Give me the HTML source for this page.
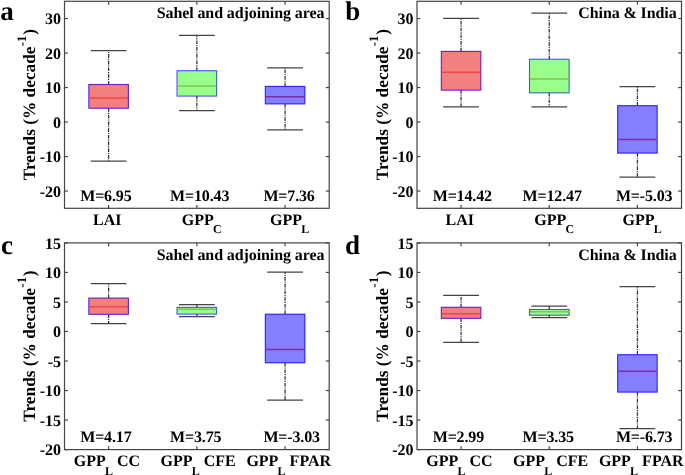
<!DOCTYPE html>
<html><head><meta charset="utf-8"><style>
html,body{margin:0;padding:0;background:#fff;}
svg{display:block;will-change:transform;}
text{font-family:"Liberation Serif", serif;font-weight:bold;fill:#000;text-rendering:geometricPrecision;}
.t{font-size:16px;}
.yl{font-size:17.3px;}
.pl{font-size:27px;}
</style></head><body>
<svg width="685" height="475" viewBox="0 0 685 475">
<rect width="685" height="475" fill="#fff"/>
<line x1="108.62" y1="84.50" x2="108.62" y2="50.50" stroke="#303030" stroke-width="1.25" stroke-dasharray="3.6 1.0 1.1 1.0"/>
<line x1="108.62" y1="108.20" x2="108.62" y2="161.20" stroke="#303030" stroke-width="1.25" stroke-dasharray="3.6 1.0 1.1 1.0"/>
<line x1="90.72" y1="50.50" x2="126.52" y2="50.50" stroke="#444444" stroke-width="1.25"/>
<line x1="90.72" y1="161.20" x2="126.52" y2="161.20" stroke="#444444" stroke-width="1.25"/>
<rect x="88.87" y="84.50" width="39.50" height="23.70" fill="none" stroke="#3a2aff" stroke-width="1.1"/>
<rect x="88.87" y="84.50" width="39.50" height="23.70" fill="#e90000" fill-opacity="0.5" stroke="none"/>
<line x1="89.37" y1="98.07" x2="127.87" y2="98.07" stroke="#f5444a" stroke-width="1.5"/>
<line x1="196.85" y1="70.80" x2="196.85" y2="35.40" stroke="#303030" stroke-width="1.25" stroke-dasharray="3.6 1.0 1.1 1.0"/>
<line x1="196.85" y1="96.00" x2="196.85" y2="110.50" stroke="#303030" stroke-width="1.25" stroke-dasharray="3.6 1.0 1.1 1.0"/>
<line x1="178.95" y1="35.40" x2="214.75" y2="35.40" stroke="#444444" stroke-width="1.25"/>
<line x1="178.95" y1="110.50" x2="214.75" y2="110.50" stroke="#444444" stroke-width="1.25"/>
<rect x="177.10" y="70.80" width="39.50" height="25.20" fill="none" stroke="#3a2aff" stroke-width="1.1"/>
<rect x="177.10" y="70.80" width="39.50" height="25.20" fill="#31ff15" fill-opacity="0.5" stroke="none"/>
<line x1="177.60" y1="86.07" x2="216.10" y2="86.07" stroke="#8ac053" stroke-width="1.5"/>
<line x1="285.08" y1="86.40" x2="285.08" y2="67.90" stroke="#303030" stroke-width="1.25" stroke-dasharray="3.6 1.0 1.1 1.0"/>
<line x1="285.08" y1="103.90" x2="285.08" y2="129.80" stroke="#303030" stroke-width="1.25" stroke-dasharray="3.6 1.0 1.1 1.0"/>
<line x1="267.18" y1="67.90" x2="302.98" y2="67.90" stroke="#444444" stroke-width="1.25"/>
<line x1="267.18" y1="129.80" x2="302.98" y2="129.80" stroke="#444444" stroke-width="1.25"/>
<rect x="265.33" y="86.40" width="39.50" height="17.50" fill="none" stroke="#3a2aff" stroke-width="1.1"/>
<rect x="265.33" y="86.40" width="39.50" height="17.50" fill="#0900ff" fill-opacity="0.5" stroke="none"/>
<line x1="265.83" y1="96.66" x2="304.33" y2="96.66" stroke="#7d2da5" stroke-width="1.5"/>
<rect x="64.5" y="1.3" width="264.70" height="207.00" fill="none" stroke="#444444" stroke-width="1.2"/>
<line x1="64.5" y1="191.05" x2="67.9" y2="191.05" stroke="#444444" stroke-width="1.2"/>
<line x1="329.2" y1="191.05" x2="325.8" y2="191.05" stroke="#444444" stroke-width="1.2"/>
<text x="61.00" y="196.65" text-anchor="end" class="t">-20</text>
<line x1="64.5" y1="156.55" x2="67.9" y2="156.55" stroke="#444444" stroke-width="1.2"/>
<line x1="329.2" y1="156.55" x2="325.8" y2="156.55" stroke="#444444" stroke-width="1.2"/>
<text x="61.00" y="162.15" text-anchor="end" class="t">-10</text>
<line x1="64.5" y1="122.05" x2="67.9" y2="122.05" stroke="#444444" stroke-width="1.2"/>
<line x1="329.2" y1="122.05" x2="325.8" y2="122.05" stroke="#444444" stroke-width="1.2"/>
<text x="61.00" y="127.65" text-anchor="end" class="t">0</text>
<line x1="64.5" y1="87.55" x2="67.9" y2="87.55" stroke="#444444" stroke-width="1.2"/>
<line x1="329.2" y1="87.55" x2="325.8" y2="87.55" stroke="#444444" stroke-width="1.2"/>
<text x="61.00" y="93.15" text-anchor="end" class="t">10</text>
<line x1="64.5" y1="53.05" x2="67.9" y2="53.05" stroke="#444444" stroke-width="1.2"/>
<line x1="329.2" y1="53.05" x2="325.8" y2="53.05" stroke="#444444" stroke-width="1.2"/>
<text x="61.00" y="58.65" text-anchor="end" class="t">20</text>
<line x1="64.5" y1="18.55" x2="67.9" y2="18.55" stroke="#444444" stroke-width="1.2"/>
<line x1="329.2" y1="18.55" x2="325.8" y2="18.55" stroke="#444444" stroke-width="1.2"/>
<text x="61.00" y="24.15" text-anchor="end" class="t">30</text>
<line x1="108.62" y1="208.3" x2="108.62" y2="204.9" stroke="#444444" stroke-width="1.2"/>
<line x1="108.62" y1="1.3" x2="108.62" y2="4.7" stroke="#444444" stroke-width="1.2"/>
<line x1="196.85" y1="208.3" x2="196.85" y2="204.9" stroke="#444444" stroke-width="1.2"/>
<line x1="196.85" y1="1.3" x2="196.85" y2="4.7" stroke="#444444" stroke-width="1.2"/>
<line x1="285.08" y1="208.3" x2="285.08" y2="204.9" stroke="#444444" stroke-width="1.2"/>
<line x1="285.08" y1="1.3" x2="285.08" y2="4.7" stroke="#444444" stroke-width="1.2"/>
<text x="80.20" y="201.10" class="t" letter-spacing="-0.15">M=6.95</text>
<text x="170.10" y="201.10" class="t" letter-spacing="-0.15">M=10.43</text>
<text x="263.40" y="201.10" class="t" letter-spacing="-0.15">M=7.36</text>
<text x="324.30" y="17.90" text-anchor="end" class="t" letter-spacing="-0.1">Sahel and adjoining area</text>
<text transform="translate(35.00,104.70) rotate(-90)" text-anchor="middle" class="yl">Trends (% decade<tspan dy="-9.3" dx="0.3" font-size="13">-1</tspan><tspan dy="9.3" dx="0.5">)</tspan></text>
<text x="93.00" y="224.60" class="t">LAI</text>
<text x="181.80" y="224.60" class="t">GPP<tspan dx="-0.8" dy="8.4" font-size="12">C</tspan></text>
<text x="270.10" y="224.60" class="t">GPP<tspan dx="-0.8" dy="8.4" font-size="12">L</tspan></text>
<line x1="461.08" y1="51.40" x2="461.08" y2="18.30" stroke="#303030" stroke-width="1.25" stroke-dasharray="3.6 1.0 1.1 1.0"/>
<line x1="461.08" y1="90.10" x2="461.08" y2="106.80" stroke="#303030" stroke-width="1.25" stroke-dasharray="3.6 1.0 1.1 1.0"/>
<line x1="443.18" y1="18.30" x2="478.98" y2="18.30" stroke="#444444" stroke-width="1.25"/>
<line x1="443.18" y1="106.80" x2="478.98" y2="106.80" stroke="#444444" stroke-width="1.25"/>
<rect x="441.33" y="51.40" width="39.50" height="38.70" fill="none" stroke="#3a2aff" stroke-width="1.1"/>
<rect x="441.33" y="51.40" width="39.50" height="38.70" fill="#e90000" fill-opacity="0.5" stroke="none"/>
<line x1="441.83" y1="72.30" x2="480.33" y2="72.30" stroke="#f5444a" stroke-width="1.5"/>
<line x1="549.25" y1="59.30" x2="549.25" y2="13.00" stroke="#303030" stroke-width="1.25" stroke-dasharray="3.6 1.0 1.1 1.0"/>
<line x1="549.25" y1="92.80" x2="549.25" y2="106.80" stroke="#303030" stroke-width="1.25" stroke-dasharray="3.6 1.0 1.1 1.0"/>
<line x1="531.35" y1="13.00" x2="567.15" y2="13.00" stroke="#444444" stroke-width="1.25"/>
<line x1="531.35" y1="106.80" x2="567.15" y2="106.80" stroke="#444444" stroke-width="1.25"/>
<rect x="529.50" y="59.30" width="39.50" height="33.50" fill="none" stroke="#3a2aff" stroke-width="1.1"/>
<rect x="529.50" y="59.30" width="39.50" height="33.50" fill="#31ff15" fill-opacity="0.5" stroke="none"/>
<line x1="530.00" y1="79.03" x2="568.50" y2="79.03" stroke="#8ac053" stroke-width="1.5"/>
<line x1="637.42" y1="105.70" x2="637.42" y2="86.50" stroke="#303030" stroke-width="1.25" stroke-dasharray="3.6 1.0 1.1 1.0"/>
<line x1="637.42" y1="153.10" x2="637.42" y2="177.00" stroke="#303030" stroke-width="1.25" stroke-dasharray="3.6 1.0 1.1 1.0"/>
<line x1="619.52" y1="86.50" x2="655.32" y2="86.50" stroke="#444444" stroke-width="1.25"/>
<line x1="619.52" y1="177.00" x2="655.32" y2="177.00" stroke="#444444" stroke-width="1.25"/>
<rect x="617.67" y="105.70" width="39.50" height="47.40" fill="none" stroke="#3a2aff" stroke-width="1.1"/>
<rect x="617.67" y="105.70" width="39.50" height="47.40" fill="#0900ff" fill-opacity="0.5" stroke="none"/>
<line x1="618.17" y1="139.40" x2="656.67" y2="139.40" stroke="#7d2da5" stroke-width="1.5"/>
<rect x="417.0" y="1.3" width="264.50" height="207.00" fill="none" stroke="#444444" stroke-width="1.2"/>
<line x1="417.0" y1="191.05" x2="420.4" y2="191.05" stroke="#444444" stroke-width="1.2"/>
<line x1="681.5" y1="191.05" x2="678.1" y2="191.05" stroke="#444444" stroke-width="1.2"/>
<text x="413.50" y="196.65" text-anchor="end" class="t">-20</text>
<line x1="417.0" y1="156.55" x2="420.4" y2="156.55" stroke="#444444" stroke-width="1.2"/>
<line x1="681.5" y1="156.55" x2="678.1" y2="156.55" stroke="#444444" stroke-width="1.2"/>
<text x="413.50" y="162.15" text-anchor="end" class="t">-10</text>
<line x1="417.0" y1="122.05" x2="420.4" y2="122.05" stroke="#444444" stroke-width="1.2"/>
<line x1="681.5" y1="122.05" x2="678.1" y2="122.05" stroke="#444444" stroke-width="1.2"/>
<text x="413.50" y="127.65" text-anchor="end" class="t">0</text>
<line x1="417.0" y1="87.55" x2="420.4" y2="87.55" stroke="#444444" stroke-width="1.2"/>
<line x1="681.5" y1="87.55" x2="678.1" y2="87.55" stroke="#444444" stroke-width="1.2"/>
<text x="413.50" y="93.15" text-anchor="end" class="t">10</text>
<line x1="417.0" y1="53.05" x2="420.4" y2="53.05" stroke="#444444" stroke-width="1.2"/>
<line x1="681.5" y1="53.05" x2="678.1" y2="53.05" stroke="#444444" stroke-width="1.2"/>
<text x="413.50" y="58.65" text-anchor="end" class="t">20</text>
<line x1="417.0" y1="18.55" x2="420.4" y2="18.55" stroke="#444444" stroke-width="1.2"/>
<line x1="681.5" y1="18.55" x2="678.1" y2="18.55" stroke="#444444" stroke-width="1.2"/>
<text x="413.50" y="24.15" text-anchor="end" class="t">30</text>
<line x1="461.08" y1="208.3" x2="461.08" y2="204.9" stroke="#444444" stroke-width="1.2"/>
<line x1="461.08" y1="1.3" x2="461.08" y2="4.7" stroke="#444444" stroke-width="1.2"/>
<line x1="549.25" y1="208.3" x2="549.25" y2="204.9" stroke="#444444" stroke-width="1.2"/>
<line x1="549.25" y1="1.3" x2="549.25" y2="4.7" stroke="#444444" stroke-width="1.2"/>
<line x1="637.42" y1="208.3" x2="637.42" y2="204.9" stroke="#444444" stroke-width="1.2"/>
<line x1="637.42" y1="1.3" x2="637.42" y2="4.7" stroke="#444444" stroke-width="1.2"/>
<text x="432.70" y="201.10" class="t" letter-spacing="-0.15">M=14.42</text>
<text x="522.60" y="201.10" class="t" letter-spacing="-0.15">M=12.47</text>
<text x="615.90" y="201.10" class="t" letter-spacing="-0.15">M=-5.03</text>
<text x="676.60" y="17.90" text-anchor="end" class="t" letter-spacing="-0.1">China &amp; India</text>
<text transform="translate(387.50,104.70) rotate(-90)" text-anchor="middle" class="yl">Trends (% decade<tspan dy="-9.3" dx="0.3" font-size="13">-1</tspan><tspan dy="9.3" dx="0.5">)</tspan></text>
<text x="445.50" y="224.60" class="t">LAI</text>
<text x="534.30" y="224.60" class="t">GPP<tspan dx="-0.8" dy="8.4" font-size="12">C</tspan></text>
<text x="622.60" y="224.60" class="t">GPP<tspan dx="-0.8" dy="8.4" font-size="12">L</tspan></text>
<line x1="108.62" y1="298.10" x2="108.62" y2="283.50" stroke="#303030" stroke-width="1.25" stroke-dasharray="3.6 1.0 1.1 1.0"/>
<line x1="108.62" y1="314.30" x2="108.62" y2="323.50" stroke="#303030" stroke-width="1.25" stroke-dasharray="3.6 1.0 1.1 1.0"/>
<line x1="90.72" y1="283.50" x2="126.52" y2="283.50" stroke="#444444" stroke-width="1.25"/>
<line x1="90.72" y1="323.50" x2="126.52" y2="323.50" stroke="#444444" stroke-width="1.25"/>
<rect x="88.87" y="298.10" width="39.50" height="16.20" fill="none" stroke="#3a2aff" stroke-width="1.1"/>
<rect x="88.87" y="298.10" width="39.50" height="16.20" fill="#e90000" fill-opacity="0.5" stroke="none"/>
<line x1="89.37" y1="306.86" x2="127.87" y2="306.86" stroke="#f5444a" stroke-width="1.5"/>
<line x1="196.85" y1="307.40" x2="196.85" y2="304.50" stroke="#303030" stroke-width="1.25" stroke-dasharray="3.6 1.0 1.1 1.0"/>
<line x1="196.85" y1="314.00" x2="196.85" y2="316.70" stroke="#303030" stroke-width="1.25" stroke-dasharray="3.6 1.0 1.1 1.0"/>
<line x1="178.95" y1="304.50" x2="214.75" y2="304.50" stroke="#444444" stroke-width="1.25"/>
<line x1="178.95" y1="316.70" x2="214.75" y2="316.70" stroke="#444444" stroke-width="1.25"/>
<rect x="177.10" y="307.40" width="39.50" height="6.60" fill="none" stroke="#3a2aff" stroke-width="1.1"/>
<rect x="177.10" y="307.40" width="39.50" height="6.60" fill="#31ff15" fill-opacity="0.5" stroke="none"/>
<line x1="177.60" y1="309.34" x2="216.10" y2="309.34" stroke="#8ac053" stroke-width="1.5"/>
<line x1="285.08" y1="314.20" x2="285.08" y2="272.00" stroke="#303030" stroke-width="1.25" stroke-dasharray="3.6 1.0 1.1 1.0"/>
<line x1="285.08" y1="362.80" x2="285.08" y2="400.20" stroke="#303030" stroke-width="1.25" stroke-dasharray="3.6 1.0 1.1 1.0"/>
<line x1="267.18" y1="272.00" x2="302.98" y2="272.00" stroke="#444444" stroke-width="1.25"/>
<line x1="267.18" y1="400.20" x2="302.98" y2="400.20" stroke="#444444" stroke-width="1.25"/>
<rect x="265.33" y="314.20" width="39.50" height="48.60" fill="none" stroke="#3a2aff" stroke-width="1.1"/>
<rect x="265.33" y="314.20" width="39.50" height="48.60" fill="#0900ff" fill-opacity="0.5" stroke="none"/>
<line x1="265.83" y1="349.38" x2="304.33" y2="349.38" stroke="#7d2da5" stroke-width="1.5"/>
<rect x="64.5" y="242.9" width="264.70" height="206.70" fill="none" stroke="#444444" stroke-width="1.2"/>
<line x1="64.5" y1="449.60" x2="67.9" y2="449.60" stroke="#444444" stroke-width="1.2"/>
<line x1="329.2" y1="449.60" x2="325.8" y2="449.60" stroke="#444444" stroke-width="1.2"/>
<text x="61.00" y="455.20" text-anchor="end" class="t">-20</text>
<line x1="64.5" y1="420.07" x2="67.9" y2="420.07" stroke="#444444" stroke-width="1.2"/>
<line x1="329.2" y1="420.07" x2="325.8" y2="420.07" stroke="#444444" stroke-width="1.2"/>
<text x="61.00" y="425.67" text-anchor="end" class="t">-15</text>
<line x1="64.5" y1="390.54" x2="67.9" y2="390.54" stroke="#444444" stroke-width="1.2"/>
<line x1="329.2" y1="390.54" x2="325.8" y2="390.54" stroke="#444444" stroke-width="1.2"/>
<text x="61.00" y="396.14" text-anchor="end" class="t">-10</text>
<line x1="64.5" y1="361.01" x2="67.9" y2="361.01" stroke="#444444" stroke-width="1.2"/>
<line x1="329.2" y1="361.01" x2="325.8" y2="361.01" stroke="#444444" stroke-width="1.2"/>
<text x="61.00" y="366.61" text-anchor="end" class="t">-5</text>
<line x1="64.5" y1="331.49" x2="67.9" y2="331.49" stroke="#444444" stroke-width="1.2"/>
<line x1="329.2" y1="331.49" x2="325.8" y2="331.49" stroke="#444444" stroke-width="1.2"/>
<text x="61.00" y="337.09" text-anchor="end" class="t">0</text>
<line x1="64.5" y1="301.96" x2="67.9" y2="301.96" stroke="#444444" stroke-width="1.2"/>
<line x1="329.2" y1="301.96" x2="325.8" y2="301.96" stroke="#444444" stroke-width="1.2"/>
<text x="61.00" y="307.56" text-anchor="end" class="t">5</text>
<line x1="64.5" y1="272.43" x2="67.9" y2="272.43" stroke="#444444" stroke-width="1.2"/>
<line x1="329.2" y1="272.43" x2="325.8" y2="272.43" stroke="#444444" stroke-width="1.2"/>
<text x="61.00" y="278.03" text-anchor="end" class="t">10</text>
<line x1="64.5" y1="242.90" x2="67.9" y2="242.90" stroke="#444444" stroke-width="1.2"/>
<line x1="329.2" y1="242.90" x2="325.8" y2="242.90" stroke="#444444" stroke-width="1.2"/>
<text x="61.00" y="248.50" text-anchor="end" class="t">15</text>
<line x1="108.62" y1="449.6" x2="108.62" y2="446.20000000000005" stroke="#444444" stroke-width="1.2"/>
<line x1="108.62" y1="242.9" x2="108.62" y2="246.3" stroke="#444444" stroke-width="1.2"/>
<line x1="196.85" y1="449.6" x2="196.85" y2="446.20000000000005" stroke="#444444" stroke-width="1.2"/>
<line x1="196.85" y1="242.9" x2="196.85" y2="246.3" stroke="#444444" stroke-width="1.2"/>
<line x1="285.08" y1="449.6" x2="285.08" y2="446.20000000000005" stroke="#444444" stroke-width="1.2"/>
<line x1="285.08" y1="242.9" x2="285.08" y2="246.3" stroke="#444444" stroke-width="1.2"/>
<text x="80.20" y="442.40" class="t" letter-spacing="-0.15">M=4.17</text>
<text x="170.10" y="442.40" class="t" letter-spacing="-0.15">M=3.75</text>
<text x="263.40" y="442.40" class="t" letter-spacing="-0.15">M=-3.03</text>
<text x="324.30" y="260.00" text-anchor="end" class="t" letter-spacing="-0.1">Sahel and adjoining area</text>
<text transform="translate(35.00,346.15) rotate(-90)" text-anchor="middle" class="yl">Trends (% decade<tspan dy="-9.3" dx="0.3" font-size="13">-1</tspan><tspan dy="9.3" dx="0.5">)</tspan></text>
<text x="73.80" y="466.30" class="t">GPP<tspan dx="-0.8" dy="8.4" font-size="12">L</tspan><tspan dy="-8.4"> CC</tspan></text>
<text x="160.50" y="466.30" class="t">GPP<tspan dx="-0.8" dy="8.4" font-size="12">L</tspan><tspan dy="-8.4"> CFE</tspan></text>
<text x="246.40" y="466.30" class="t">GPP<tspan dx="-0.8" dy="8.4" font-size="12">L</tspan><tspan dy="-8.4"> FPAR</tspan></text>
<line x1="461.08" y1="307.30" x2="461.08" y2="295.30" stroke="#303030" stroke-width="1.25" stroke-dasharray="3.6 1.0 1.1 1.0"/>
<line x1="461.08" y1="318.30" x2="461.08" y2="342.30" stroke="#303030" stroke-width="1.25" stroke-dasharray="3.6 1.0 1.1 1.0"/>
<line x1="443.18" y1="295.30" x2="478.98" y2="295.30" stroke="#444444" stroke-width="1.25"/>
<line x1="443.18" y1="342.30" x2="478.98" y2="342.30" stroke="#444444" stroke-width="1.25"/>
<rect x="441.33" y="307.30" width="39.50" height="11.00" fill="none" stroke="#3a2aff" stroke-width="1.1"/>
<rect x="441.33" y="307.30" width="39.50" height="11.00" fill="#e90000" fill-opacity="0.5" stroke="none"/>
<line x1="441.83" y1="313.83" x2="480.33" y2="313.83" stroke="#f5444a" stroke-width="1.5"/>
<line x1="549.25" y1="309.50" x2="549.25" y2="306.10" stroke="#303030" stroke-width="1.25" stroke-dasharray="3.6 1.0 1.1 1.0"/>
<line x1="549.25" y1="315.10" x2="549.25" y2="317.70" stroke="#303030" stroke-width="1.25" stroke-dasharray="3.6 1.0 1.1 1.0"/>
<line x1="531.35" y1="306.10" x2="567.15" y2="306.10" stroke="#444444" stroke-width="1.25"/>
<line x1="531.35" y1="317.70" x2="567.15" y2="317.70" stroke="#444444" stroke-width="1.25"/>
<rect x="529.50" y="309.50" width="39.50" height="5.60" fill="none" stroke="#3a2aff" stroke-width="1.1"/>
<rect x="529.50" y="309.50" width="39.50" height="5.60" fill="#31ff15" fill-opacity="0.5" stroke="none"/>
<line x1="530.00" y1="311.70" x2="568.50" y2="311.70" stroke="#8ac053" stroke-width="1.5"/>
<line x1="637.42" y1="354.70" x2="637.42" y2="286.50" stroke="#303030" stroke-width="1.25" stroke-dasharray="3.6 1.0 1.1 1.0"/>
<line x1="637.42" y1="392.10" x2="637.42" y2="428.50" stroke="#303030" stroke-width="1.25" stroke-dasharray="3.6 1.0 1.1 1.0"/>
<line x1="619.52" y1="286.50" x2="655.32" y2="286.50" stroke="#444444" stroke-width="1.25"/>
<line x1="619.52" y1="428.50" x2="655.32" y2="428.50" stroke="#444444" stroke-width="1.25"/>
<rect x="617.67" y="354.70" width="39.50" height="37.40" fill="none" stroke="#3a2aff" stroke-width="1.1"/>
<rect x="617.67" y="354.70" width="39.50" height="37.40" fill="#0900ff" fill-opacity="0.5" stroke="none"/>
<line x1="618.17" y1="371.23" x2="656.67" y2="371.23" stroke="#7d2da5" stroke-width="1.5"/>
<rect x="417.0" y="242.9" width="264.50" height="206.70" fill="none" stroke="#444444" stroke-width="1.2"/>
<line x1="417.0" y1="449.60" x2="420.4" y2="449.60" stroke="#444444" stroke-width="1.2"/>
<line x1="681.5" y1="449.60" x2="678.1" y2="449.60" stroke="#444444" stroke-width="1.2"/>
<text x="413.50" y="455.20" text-anchor="end" class="t">-20</text>
<line x1="417.0" y1="420.07" x2="420.4" y2="420.07" stroke="#444444" stroke-width="1.2"/>
<line x1="681.5" y1="420.07" x2="678.1" y2="420.07" stroke="#444444" stroke-width="1.2"/>
<text x="413.50" y="425.67" text-anchor="end" class="t">-15</text>
<line x1="417.0" y1="390.54" x2="420.4" y2="390.54" stroke="#444444" stroke-width="1.2"/>
<line x1="681.5" y1="390.54" x2="678.1" y2="390.54" stroke="#444444" stroke-width="1.2"/>
<text x="413.50" y="396.14" text-anchor="end" class="t">-10</text>
<line x1="417.0" y1="361.01" x2="420.4" y2="361.01" stroke="#444444" stroke-width="1.2"/>
<line x1="681.5" y1="361.01" x2="678.1" y2="361.01" stroke="#444444" stroke-width="1.2"/>
<text x="413.50" y="366.61" text-anchor="end" class="t">-5</text>
<line x1="417.0" y1="331.49" x2="420.4" y2="331.49" stroke="#444444" stroke-width="1.2"/>
<line x1="681.5" y1="331.49" x2="678.1" y2="331.49" stroke="#444444" stroke-width="1.2"/>
<text x="413.50" y="337.09" text-anchor="end" class="t">0</text>
<line x1="417.0" y1="301.96" x2="420.4" y2="301.96" stroke="#444444" stroke-width="1.2"/>
<line x1="681.5" y1="301.96" x2="678.1" y2="301.96" stroke="#444444" stroke-width="1.2"/>
<text x="413.50" y="307.56" text-anchor="end" class="t">5</text>
<line x1="417.0" y1="272.43" x2="420.4" y2="272.43" stroke="#444444" stroke-width="1.2"/>
<line x1="681.5" y1="272.43" x2="678.1" y2="272.43" stroke="#444444" stroke-width="1.2"/>
<text x="413.50" y="278.03" text-anchor="end" class="t">10</text>
<line x1="417.0" y1="242.90" x2="420.4" y2="242.90" stroke="#444444" stroke-width="1.2"/>
<line x1="681.5" y1="242.90" x2="678.1" y2="242.90" stroke="#444444" stroke-width="1.2"/>
<text x="413.50" y="248.50" text-anchor="end" class="t">15</text>
<line x1="461.08" y1="449.6" x2="461.08" y2="446.20000000000005" stroke="#444444" stroke-width="1.2"/>
<line x1="461.08" y1="242.9" x2="461.08" y2="246.3" stroke="#444444" stroke-width="1.2"/>
<line x1="549.25" y1="449.6" x2="549.25" y2="446.20000000000005" stroke="#444444" stroke-width="1.2"/>
<line x1="549.25" y1="242.9" x2="549.25" y2="246.3" stroke="#444444" stroke-width="1.2"/>
<line x1="637.42" y1="449.6" x2="637.42" y2="446.20000000000005" stroke="#444444" stroke-width="1.2"/>
<line x1="637.42" y1="242.9" x2="637.42" y2="246.3" stroke="#444444" stroke-width="1.2"/>
<text x="432.70" y="442.40" class="t" letter-spacing="-0.15">M=2.99</text>
<text x="522.60" y="442.40" class="t" letter-spacing="-0.15">M=3.35</text>
<text x="615.90" y="442.40" class="t" letter-spacing="-0.15">M=-6.73</text>
<text x="676.60" y="260.00" text-anchor="end" class="t" letter-spacing="-0.1">China &amp; India</text>
<text transform="translate(387.50,346.15) rotate(-90)" text-anchor="middle" class="yl">Trends (% decade<tspan dy="-9.3" dx="0.3" font-size="13">-1</tspan><tspan dy="9.3" dx="0.5">)</tspan></text>
<text x="426.30" y="466.30" class="t">GPP<tspan dx="-0.8" dy="8.4" font-size="12">L</tspan><tspan dy="-8.4"> CC</tspan></text>
<text x="513.00" y="466.30" class="t">GPP<tspan dx="-0.8" dy="8.4" font-size="12">L</tspan><tspan dy="-8.4"> CFE</tspan></text>
<text x="598.90" y="466.30" class="t">GPP<tspan dx="-0.8" dy="8.4" font-size="12">L</tspan><tspan dy="-8.4"> FPAR</tspan></text>
<text x="0.2" y="19.7" class="pl">a</text>
<text x="345.2" y="19.8" class="pl">b</text>
<text x="1" y="254.3" class="pl">c</text>
<text x="345" y="254.3" class="pl">d</text>
</svg>
</body></html>
